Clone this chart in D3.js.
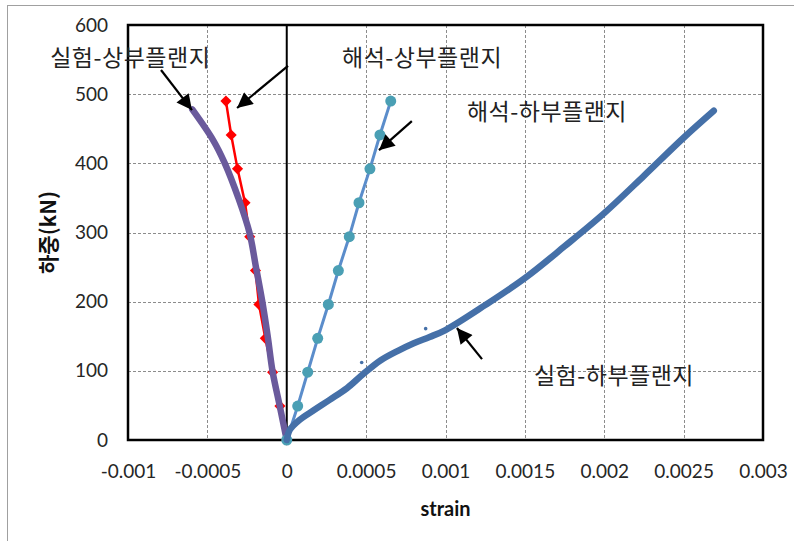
<!DOCTYPE html>
<html>
<head>
<meta charset="utf-8">
<script src="https://cdn.jsdelivr.net/npm/d3@7"></script>
<style>
  body { margin: 0; background: #fff; }
  svg { display: block; }
</style>
</head>
<body>
<svg id="chart" width="794" height="541"></svg>
<script>
// x/y ticks
var xTicks = [-0.001, -0.0005, 0, 0.0005, 0.001, 0.0015, 0.002, 0.0025, 0.003];
var yTicks = [0, 100, 200, 300, 400, 500, 600];

// 해석-상부플랜지 (red diamonds)
var anaTopStrain = [0, -0.000043, -0.000089, -0.000135, -0.000175, -0.000197, -0.000233, -0.000263, -0.00031, -0.00035, -0.000383];
var anaTopLoad   = [0, 49, 98, 147, 196, 245, 294, 343, 392, 441, 490];

// 해석-하부플랜지 (teal circles)
var anaBotStrain = [0, 0.000069, 0.000132, 0.000195, 0.000262, 0.000325, 0.000394, 0.000455, 0.000524, 0.000587, 0.000655];
var anaBotLoad   = [0, 49, 98, 147, 196, 245, 294, 343, 392, 441, 490];

// 실험-상부플랜지 (purple trace)
var expTopStrain = [0, -0.000045, -0.00009, -0.00012, -0.000154, -0.000194, -0.000235, -0.000305, -0.00039, -0.000465, -0.000595];
var expTopLoad   = [0, 50, 100, 150, 200, 250, 300, 350, 400, 434, 478];

// 실험-하부플랜지 (blue trace)
var expBotStrain = [0, 0.00002, 0.00008, 0.00017, 0.00027, 0.00038, 0.00048, 0.00059, 0.0007, 0.0008, 0.0009, 0.001, 0.00125, 0.0015, 0.00175, 0.002, 0.00225, 0.0025, 0.00269];
var expBotLoad   = [0, 15, 29, 43, 58, 75, 95, 115, 129, 140, 149, 159, 195, 234, 280, 328, 382, 437, 476];
var strayStrain = [0.000472, 0.000875];
var strayLoad   = [112, 161];

// annotations
var labels = ["실험-상부플랜지", "해석-상부플랜지", "해석-하부플랜지", "실험-하부플랜지"];
var labelStrain = [-0.00149, 0.000348, 0.001135, 0.001557];
var labelLoad   = [552, 552, 474, 92];
var arrowFrom = [[-0.000792, 535], [0.000008, 541], [0.000788, 461], [0.00123, 117]];
var arrowTo   = [[-0.000597, 477], [-0.000313, 480], [0.000581, 419], [0.001072, 162]];

var svg = d3.select("#chart");
var plotL = 128, plotR = 763, plotT = 25, plotB = 440;

var x = d3.scaleLinear().domain([-0.001, 0.003]).range([plotL, plotR]);
var y = d3.scaleLinear().domain([0, 600]).range([plotB, plotT]);

// outer chart frame
svg.append("rect").attr("x", 7.5).attr("y", 5.5).attr("width", 820).attr("height", 600)
  .attr("fill", "#fff").attr("stroke", "#a0a0a0");

// grid
var grid = svg.append("g");
grid.selectAll(".gx").data(xTicks.filter(d => d !== 0 && d > -0.001 && d < 0.003)).enter().append("line")
  .attr("x1", d => Math.round(x(d)) + 0.5).attr("x2", d => Math.round(x(d)) + 0.5)
  .attr("y1", plotT).attr("y2", plotB)
  .attr("stroke", "#8c8c8c").attr("stroke-dasharray", "3,2");
grid.selectAll(".gy").data(yTicks.filter(d => d > 0 && d < 600)).enter().append("line")
  .attr("y1", d => Math.round(y(d)) + 0.5).attr("y2", d => Math.round(y(d)) + 0.5)
  .attr("x1", plotL).attr("x2", plotR)
  .attr("stroke", "#8c8c8c").attr("stroke-dasharray", "3,2");

// axes (labels only)
var tickFont = "Lato, 'Open Sans', sans-serif";
var xAxis = d3.axisBottom(x).tickValues(xTicks).tickSize(0).tickPadding(25).tickFormat(d => d === 0 ? "0" : String(+d.toPrecision(2)));
var gx = svg.append("g").attr("transform", "translate(0," + plotB + ")").call(xAxis);
gx.select(".domain").remove();
gx.selectAll("text").attr("font-family", tickFont).attr("font-size", 19).attr("fill", "#262626");

var yAxis = d3.axisLeft(y).tickValues(yTicks).tickSize(0).tickPadding(20);
var gy = svg.append("g").attr("transform", "translate(" + plotL + ",0)").call(yAxis);
gy.select(".domain").remove();
gy.selectAll("text").attr("font-family", tickFont).attr("font-size", 19).attr("fill", "#262626");

// plot border + zero axis
svg.append("rect").attr("x", plotL).attr("y", plotT).attr("width", plotR - plotL).attr("height", plotB - plotT)
  .attr("fill", "none").attr("stroke", "#000").attr("stroke-width", 2.5);
svg.append("line").attr("x1", x(0)).attr("x2", x(0)).attr("y1", plotT).attr("y2", plotB)
  .attr("stroke", "#000").attr("stroke-width", 2);

// axis titles
svg.append("text").attr("x", (plotL + plotR) / 2).attr("y", 516).attr("text-anchor", "middle")
  .attr("font-family", tickFont).attr("font-weight", "bold").attr("font-size", 20).attr("fill", "#111")
  .text("strain");
svg.append("text").attr("transform", "translate(56," + (plotT + plotB) / 2 + ") rotate(-90)")
  .attr("text-anchor", "middle")
  .attr("font-family", "'Noto Sans CJK KR', sans-serif").attr("font-weight", "bold").attr("font-size", 21).attr("fill", "#111")
  .text("하중(kN)");

var line = d3.line().x(d => x(d[0])).y(d => y(d[1]));
var smooth = d3.line().x(d => x(d[0])).y(d => y(d[1])).curve(d3.curveCatmullRom);

// red analysis top flange
var redPts = d3.zip(anaTopStrain, anaTopLoad);
svg.append("path").attr("d", line(redPts)).attr("fill", "none").attr("stroke", "#ff0000").attr("stroke-width", 2.5);
svg.selectAll(".dia").data(redPts).enter().append("path")
  .attr("d", d3.symbol().type(d3.symbolSquare).size(62))
  .attr("transform", d => "translate(" + x(d[0]) + "," + y(d[1]) + ") rotate(45)")
  .attr("fill", "#ff0000");

// purple experiment top flange
svg.append("path").attr("d", smooth(d3.zip(expTopStrain, expTopLoad))).attr("fill", "none")
  .attr("stroke", "#6a5a9c").attr("stroke-width", 6.5).attr("stroke-linecap", "round");

// teal analysis bottom flange
var tealPts = d3.zip(anaBotStrain, anaBotLoad);
svg.append("path").attr("d", line(tealPts)).attr("fill", "none").attr("stroke", "#5b8dcb").attr("stroke-width", 3);
svg.selectAll(".dot").data(tealPts).enter().append("circle")
  .attr("cx", d => x(d[0])).attr("cy", d => y(d[1])).attr("r", 5.5).attr("fill", "#4a9fb4");

// blue experiment bottom flange
svg.append("path").attr("d", smooth(d3.zip(expBotStrain, expBotLoad))).attr("fill", "none")
  .attr("stroke", "#4570a8").attr("stroke-width", 6.5).attr("stroke-linecap", "round");
svg.selectAll(".stray").data(d3.zip(strayStrain, strayLoad)).enter().append("circle")
  .attr("cx", d => x(d[0])).attr("cy", d => y(d[1])).attr("r", 1.8).attr("fill", "#4570a8");

// arrows
svg.append("defs").append("marker").attr("id", "head")
  .attr("viewBox", "0 0 10 10").attr("refX", 10).attr("refY", 5)
  .attr("markerWidth", 8).attr("markerHeight", 7).attr("markerUnits", "strokeWidth")
  .attr("orient", "auto")
  .append("path").attr("d", "M0,0 L10,5 L0,10 z").attr("fill", "#000");
svg.selectAll(".arrow").data(d3.zip(arrowFrom, arrowTo)).enter().append("line")
  .attr("x1", d => x(d[0][0])).attr("y1", d => y(d[0][1]))
  .attr("x2", d => x(d[1][0])).attr("y2", d => y(d[1][1]))
  .attr("stroke", "#000").attr("stroke-width", 2.2).attr("marker-end", "url(#head)");

// labels
svg.selectAll(".lbl").data(labels).enter().append("text")
  .attr("x", (d, i) => x(labelStrain[i])).attr("y", (d, i) => y(labelLoad[i]))
  .attr("dy", "0.35em")
  .attr("font-family", "'Noto Sans CJK KR', sans-serif").attr("font-size", 23).attr("letter-spacing", 0.5).attr("fill", "#222")
  .text(d => d);
</script>
</body>
</html>
